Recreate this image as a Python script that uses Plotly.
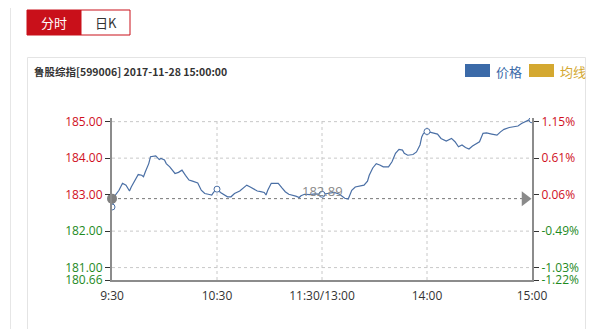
import plotly.graph_objects as go

# ---------------- data ----------------
PRECLOSE = 182.89
MINUTES = [0, 2, 4, 6, 8, 10, 11, 13, 15, 17, 18, 19, 21, 22, 24, 25, 27, 28, 30, 31,
           33, 35, 36, 38, 40, 42, 44, 46, 47, 49, 51, 53, 55, 57, 58, 60, 62, 64, 66, 68,
           70, 73, 75, 77, 79, 81, 83, 85, 87, 88, 89, 91, 93, 95, 97, 99, 101, 103, 105, 107,
           108, 110, 113, 116, 120, 123, 127, 130, 133, 135, 137, 139, 142, 144, 146, 147, 149, 151, 153, 155,
           158, 160, 162, 164, 166, 167, 169, 172, 174, 176, 177, 178, 180, 183, 186, 188, 191, 194, 196, 198,
           200, 202, 204, 206, 208, 210, 212, 214, 217, 220, 222, 224, 227, 229, 232, 234, 236, 238, 240]
PRICES = [182.66, 182.99, 183.12, 183.31, 183.26, 183.10, 183.21, 183.40, 183.55, 183.53, 183.49, 183.62, 183.85, 184.04, 184.04, 184.06, 183.96, 183.99, 183.95, 183.85,
          183.76, 183.64, 183.58, 183.61, 183.67, 183.53, 183.40, 183.37, 183.35, 183.32, 183.12, 183.03, 183.01, 182.99, 183.06, 183.15, 183.06, 182.99, 182.94, 182.94,
          183.03, 183.10, 183.17, 183.26, 183.21, 183.15, 183.10, 183.08, 183.06, 182.99, 183.12, 183.31, 183.32, 183.31, 183.19, 183.08, 183.01, 182.99, 182.96, 182.92,
          182.97, 183.01, 183.00, 183.02, 183.01, 183.03, 183.06, 183.01, 182.90, 182.88, 183.12, 183.21, 183.23, 183.26, 183.37, 183.53, 183.73, 183.85, 183.81, 183.76,
          183.76, 183.90, 184.13, 184.24, 184.22, 184.13, 184.08, 184.10, 184.17, 184.36, 184.58, 184.68, 184.73, 184.69, 184.66, 184.54, 184.47, 184.54, 184.45, 184.31,
          184.36, 184.29, 184.25, 184.33, 184.38, 184.45, 184.68, 184.69, 184.66, 184.63, 184.72, 184.79, 184.84, 184.86, 184.88, 184.95, 184.99, 185.04, 185.05]
MARK_MINUTES = [0, 60, 120, 180, 240]
X_TICKS = [0, 60, 120, 180, 240]
X_LABELS = ["9:30", "10:30", "11:30/13:00", "14:00", "15:00"]
Y_TICKS = [180.66, 181.00, 182.00, 183.00, 184.00, 185.00]
GRID_Y = [181.00, 182.00, 184.00, 185.00]
GRID_X = [60, 120, 180]
Y_RANGE = [180.66, 185.10]
TITLE = "鲁股综指[599006] 2017-11-28 15:00:00"

RED = "#d0101e"
GREEN = "#1e8a1e"
BLUE = "#4a6fa5"
GOLD = "#d4a830"

# ---------------- layout helpers ----------------
W, H = 608, 329
L, R, T, B = 112, 532, 118, 280


def px(x):
    return (x - L) / (R - L)


def py(y):
    return (B - y) / (B - T)


def pct(v):
    return (v - PRECLOSE) / PRECLOSE * 100


def colored(text, v):
    c = RED if v >= PRECLOSE else GREEN
    return f'<span style="color:{c}">{text}</span>'


lookup = dict(zip(MINUTES, PRICES))

fig = go.Figure()
fig.add_trace(go.Scatter(x=MINUTES, y=PRICES, mode="lines",
                         line=dict(color=BLUE, width=1.2), hoverinfo="skip"))
fig.add_trace(go.Scatter(x=MARK_MINUTES, y=[lookup[m] for m in MARK_MINUTES], mode="markers",
                         marker=dict(symbol="circle", size=6, color="white",
                                     line=dict(color=BLUE, width=1)), hoverinfo="skip"))
# preclose dot on the left and arrow on the right
fig.add_trace(go.Scatter(x=[0], y=[PRECLOSE], mode="markers",
                         marker=dict(size=10, color="#7f7f7f"), hoverinfo="skip", cliponaxis=False))
fig.add_trace(go.Scatter(x=[236], y=[PRECLOSE], mode="markers",
                         marker=dict(symbol="triangle-right", size=13, color="#8a8a8a"),
                         hoverinfo="skip", cliponaxis=False))
# invisible trace to activate the right axis
fig.add_trace(go.Scatter(x=[MINUTES[0], MINUTES[-1]], y=[pct(Y_RANGE[0]), pct(Y_RANGE[1])],
                         yaxis="y2", mode="markers", marker=dict(opacity=0), hoverinfo="skip"))

shapes = []
# page decorations
shapes.append(dict(type="line", xref="paper", yref="paper", x0=px(10.5), x1=px(10.5),
                   y0=py(8), y1=py(340), line=dict(color="#e6e6e6", width=1)))
shapes.append(dict(type="rect", xref="paper", yref="paper", x0=px(27.5), x1=px(585.5),
                   y0=py(345), y1=py(57.5), line=dict(color="#e4e4e4", width=1), layer="below"))
shapes.append(dict(type="rect", xref="paper", yref="paper", x0=px(27), x1=px(81),
                   y0=py(35), y1=py(10), fillcolor="#c9101a", line=dict(color="#c9101a", width=1)))
shapes.append(dict(type="rect", xref="paper", yref="paper", x0=px(81), x1=px(130),
                   y0=py(35), y1=py(10), fillcolor="white", line=dict(color="#c9101a", width=1)))
# legend swatches
shapes.append(dict(type="rect", xref="paper", yref="paper", x0=px(465), x1=px(490),
                   y0=py(77), y1=py(64), fillcolor="#3b6aa8", line=dict(width=0)))
shapes.append(dict(type="rect", xref="paper", yref="paper", x0=px(529), x1=px(554),
                   y0=py(77), y1=py(64), fillcolor=GOLD, line=dict(width=0)))
# grid
for g in GRID_Y:
    shapes.append(dict(type="line", xref="x", yref="y", x0=0, x1=240, y0=g, y1=g,
                       line=dict(color="#c8c8c8", width=1, dash="dot"), layer="below"))
for g in GRID_X:
    shapes.append(dict(type="line", xref="x", yref="y", x0=g, x1=g, y0=Y_RANGE[0], y1=Y_RANGE[1],
                       line=dict(color="#c8c8c8", width=1, dash="dot"), layer="below"))
shapes.append(dict(type="line", xref="x", yref="y", x0=0, x1=240, y0=PRECLOSE, y1=PRECLOSE,
                   line=dict(color="#777777", width=1, dash="dot"), layer="below"))

annotations = [
    dict(text="分时", xref="paper", yref="paper", x=px(54), y=py(22.5), showarrow=False,
         font=dict(size=13, color="white", family="Noto Sans CJK SC"), xanchor="center", yanchor="middle"),
    dict(text="日K", xref="paper", yref="paper", x=px(105.5), y=py(22.5), showarrow=False,
         font=dict(size=13, color="#333333", family="Noto Sans CJK SC"), xanchor="center", yanchor="middle"),
    dict(text="<b>" + TITLE + "</b>", xref="paper", yref="paper", x=px(32), y=py(71), showarrow=False,
         font=dict(size=10.5, color="#333333", family="Noto Sans CJK SC"), xanchor="left", yanchor="middle"),
    dict(text="价格", xref="paper", yref="paper", x=px(494), y=py(71), showarrow=False,
         font=dict(size=13, color="#3b6aa8", family="Noto Sans CJK SC"), xanchor="left", yanchor="middle"),
    dict(text="均线", xref="paper", yref="paper", x=px(558), y=py(71), showarrow=False,
         font=dict(size=13, color=GOLD, family="Noto Sans CJK SC"), xanchor="left", yanchor="middle"),
    dict(text=f"{PRECLOSE:.2f}", x=120, y=PRECLOSE, xref="x", yref="y", showarrow=False,
         yshift=8, font=dict(size=13, color="#8a8a8a", family="Open Sans"),
         xanchor="center", yanchor="middle"),
]

fig.update_layout(
    width=W, height=H,
    margin=dict(l=L, r=W - R, t=T, b=H - B, pad=0),
    paper_bgcolor="white", plot_bgcolor="white",
    showlegend=False,
    font=dict(family="Open Sans", size=12, color="#333333"),
    shapes=shapes, annotations=annotations,
    xaxis=dict(range=[0, 240], tickvals=X_TICKS, ticktext=X_LABELS, showgrid=False,
               zeroline=False, showline=True, linecolor="#8c8c8c", linewidth=2,
               ticks="", tickfont=dict(size=12, color="#333333"), ticklabelstandoff=4),
    yaxis=dict(range=Y_RANGE, tickvals=Y_TICKS,
               ticktext=[colored(f"{v:.2f}", v) for v in Y_TICKS],
               showgrid=False, zeroline=False, showline=True, linecolor="#8c8c8c", linewidth=2,
               ticks="outside", ticklen=5, tickcolor="#333333", tickwidth=1,
               tickfont=dict(size=12)),
    yaxis2=dict(range=[pct(Y_RANGE[0]), pct(Y_RANGE[1])], overlaying="y", side="right",
                tickvals=[pct(v) for v in Y_TICKS],
                ticktext=[colored(f"{pct(v):.2f}%", v) for v in Y_TICKS],
                showgrid=False, zeroline=False, showline=True, linecolor="#8c8c8c", linewidth=2,
                ticks="outside", ticklen=5, tickcolor="#333333", tickwidth=1,
                tickfont=dict(size=12)),
)

fig.write_html("out.html")
